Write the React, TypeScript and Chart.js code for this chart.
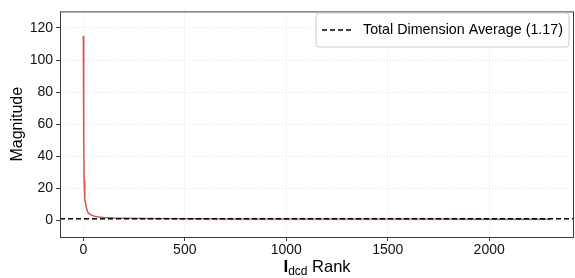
import React, { useEffect, useRef } from "react";
import { Chart, registerables } from "chart.js";

Chart.register(...registerables);

const rankValues = [0, 2, 4, 6, 8, 10, 15, 22, 30, 40, 55, 75, 100, 150, 200, 300, 500, 750, 1000, 1250, 1500, 1750, 2000, 2200, 2303];
const magnitudeValues = [115, 50, 25, 16, 13, 11.5, 8, 5.2, 4.2, 3.4, 2.7, 2.2, 1.9, 1.6, 1.45, 1.3, 1.15, 1.08, 1.03, 1.0, 0.98, 0.96, 0.93, 0.9, 0.85];
const averageValue = 1.17;
const averageLabel = "Total Dimension Average (1.17)";
const xTicks = [0, 500, 1000, 1500, 2000];
const yTicks = [0, 20, 40, 60, 80, 100, 120];
const xRange = [-115, 2418];
const yRange = [-10.2, 130.3];

const FONT = "'Liberation Sans', Arial, Helvetica, sans-serif";

export default function App() {
  const ref = useRef<HTMLCanvasElement | null>(null);

  useEffect(() => {
    document.body.style.margin = "0";
    const canvas = ref.current;
    if (!canvas) return;

    const framePlugin = {
      id: "frame",
      afterDraw(chart: any) {
        const { ctx, chartArea: a } = chart;
        ctx.save();
        ctx.strokeStyle = "#3a3a3a";
        ctx.lineWidth = 1;
        ctx.strokeRect(a.left + 0.5, a.top + 0.5, a.right - a.left - 1, a.bottom - a.top);
        // legend
        const bx = 316, by = 13, bw = 253, bh = 34, r = 3;
        ctx.fillStyle = "rgba(255,255,255,0.85)";
        ctx.strokeStyle = "#cccccc";
        ctx.beginPath();
        ctx.moveTo(bx + r, by);
        ctx.lineTo(bx + bw - r, by);
        ctx.arcTo(bx + bw, by, bx + bw, by + r, r);
        ctx.lineTo(bx + bw, by + bh - r);
        ctx.arcTo(bx + bw, by + bh, bx + bw - r, by + bh, r);
        ctx.lineTo(bx + r, by + bh);
        ctx.arcTo(bx, by + bh, bx, by + bh - r, r);
        ctx.lineTo(bx, by + r);
        ctx.arcTo(bx, by, bx + r, by, r);
        ctx.closePath();
        ctx.fill();
        ctx.stroke();
        ctx.strokeStyle = "#000";
        ctx.lineWidth = 1.5;
        ctx.setLineDash([5, 3]);
        ctx.beginPath();
        ctx.moveTo(322, 30);
        ctx.lineTo(351, 30);
        ctx.stroke();
        ctx.setLineDash([]);
        ctx.fillStyle = "#000";
        ctx.font = `14.3px ${FONT}`;
        ctx.textBaseline = "middle";
        ctx.textAlign = "left";
        ctx.fillText(chart.data.datasets[0].label, 363, 30);
        // y title
        ctx.save();
        ctx.translate(18, (a.top + a.bottom) / 2);
        ctx.rotate(-Math.PI / 2);
        ctx.textAlign = "center";
        ctx.textBaseline = "middle";
        ctx.font = `16px ${FONT}`;
        ctx.fillText("Magnitude", 0, 0);
        ctx.restore();
        // x title: bold I, subscript dcd, Rank
        const cx = (a.left + a.right) / 2;
        const base = 272;
        ctx.font = `bold 17px ${FONT}`;
        const wI = ctx.measureText("I").width;
        ctx.font = `12px ${FONT}`;
        const wSub = ctx.measureText("dcd").width;
        ctx.font = `16.5px ${FONT}`;
        const wRank = ctx.measureText(" Rank").width;
        let x0 = cx - (wI + wSub + wRank) / 2;
        ctx.textAlign = "left";
        ctx.textBaseline = "alphabetic";
        ctx.font = `bold 17px ${FONT}`;
        ctx.fillText("I", x0, base);
        x0 += wI;
        ctx.font = `12px ${FONT}`;
        ctx.fillText("dcd", x0, base + 3);
        x0 += wSub;
        ctx.font = `16.5px ${FONT}`;
        ctx.fillText(" Rank", x0, base);
        ctx.restore();
      },
    };

    const chart = new Chart(canvas, {
      type: "line",
      data: {
        datasets: [
          {
            label: averageLabel,
            data: [
              { x: xRange[0], y: averageValue },
              { x: xRange[1], y: averageValue },
            ],
            borderColor: "#000000",
            borderWidth: 1.5,
            borderDash: [5, 3],
            pointRadius: 0,
            order: 0,
          },
          {
            label: "Magnitude",
            data: rankValues.map((x, i) => ({ x, y: magnitudeValues[i] })),
            borderColor: "#d9534f",
            borderWidth: 1.5,
            pointRadius: 0,
            tension: 0,
            order: 1,
          },
        ],
      },
      options: {
        animation: false,
        responsive: false,
        maintainAspectRatio: false,
        layout: { padding: { top: 5, right: 1, left: 0, bottom: 0 } },
        plugins: { legend: { display: false }, tooltip: { enabled: false } },
        scales: {
          x: {
            type: "linear",
            min: xRange[0],
            max: xRange[1],
            afterBuildTicks: (s: any) => {
              s.ticks = xTicks.map((v) => ({ value: v }));
            },
            afterFit: (s: any) => {
              s.height = 41;
            },
            grid: {
              color: "rgba(0,0,0,0.1)",
              tickColor: "#3a3a3a",
              tickLength: 4,
              drawTicks: true,
            },
            border: { display: false, dash: [1, 2] },
            ticks: {
              color: "#111",
              font: { family: FONT, size: 14 },
              padding: 1,
              maxRotation: 0,
              callback: (v: any) => String(v),
            },
          },
          y: {
            type: "linear",
            min: yRange[0],
            max: yRange[1],
            afterBuildTicks: (s: any) => {
              s.ticks = yTicks.map((v) => ({ value: v }));
            },
            afterFit: (s: any) => {
              s.width = 60;
            },
            grid: {
              color: "rgba(0,0,0,0.1)",
              tickColor: "#3a3a3a",
              tickLength: 4,
              drawTicks: true,
            },
            border: { display: false, dash: [1, 2] },
            ticks: {
              color: "#111",
              font: { family: FONT, size: 14 },
              padding: 3,
              callback: (v: any) => String(v),
            },
          },
        },
      },
      plugins: [framePlugin],
    } as any);
    return () => chart.destroy();
  }, []);

  return (
    <div style={{ position: "fixed", left: 0, top: 0, width: 575, height: 278 }}>
      <canvas ref={ref} width={575} height={278} style={{ width: 575, height: 278, display: "block" }} />
    </div>
  );
}
